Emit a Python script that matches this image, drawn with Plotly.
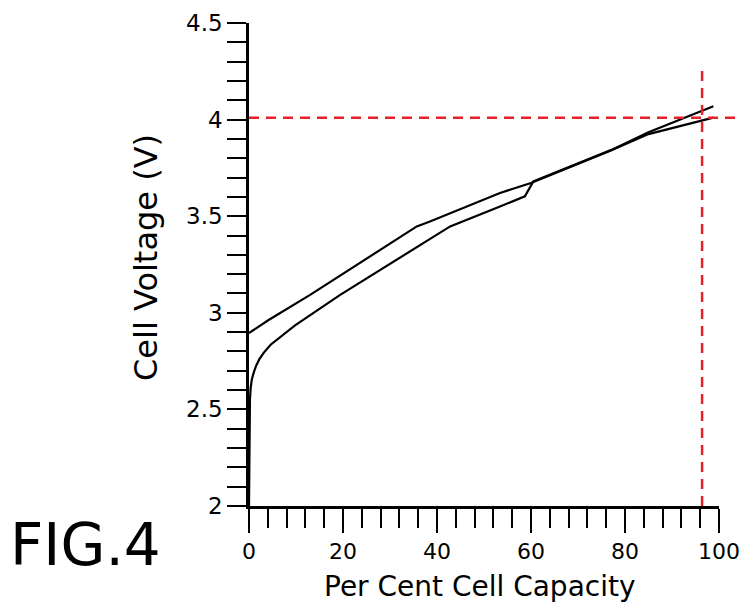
import plotly.graph_objects as go

# Curve starting at 2.9 V
cap_a = [0, 4, 13, 25, 35.7, 38.5, 45, 53.4, 60, 68, 77, 85, 98.8]
volt_a = [2.895, 2.96, 3.093, 3.28, 3.447, 3.473, 3.537, 3.62, 3.672, 3.75, 3.84, 3.925, 4.01]

# Curve starting at 2.0 V
cap_b = [0, 0.05, 0.1, 0.2, 0.35, 0.6, 1.0, 1.5, 2.2, 3.2, 4.6, 6.4, 9.8, 19.4, 31.4, 42.8, 53.4, 58.7, 60.5, 68, 77, 85, 98.8]
volt_b = [2.0, 2.3, 2.45, 2.55, 2.61, 2.655, 2.69, 2.725, 2.76, 2.795, 2.835, 2.87, 2.935, 3.093, 3.275, 3.447, 3.55, 3.603, 3.68, 3.752, 3.842, 3.935, 4.069]

x_ticks = [0, 20, 40, 60, 80, 100]
y_ticks = [2, 2.5, 3, 3.5, 4, 4.5]
y_labels = ["2", "2.5", "3", "3.5", "4", "4.5"]

ref_voltage = 4.01
ref_capacity = 96.4
ref_top = 4.27

font_family = "DejaVu Sans"

fig = go.Figure()
fig.add_trace(go.Scatter(x=cap_a, y=volt_a, mode="lines",
                         line=dict(color="black", width=2.2), showlegend=False))
fig.add_trace(go.Scatter(x=cap_b, y=volt_b, mode="lines",
                         line=dict(color="black", width=2.2), showlegend=False))

fig.add_shape(type="line", xref="paper", yref="y", x0=0, x1=1.07,
              y0=ref_voltage, y1=ref_voltage,
              line=dict(color="#e8202a", width=2.5, dash="10px,7px"))
fig.add_shape(type="line", xref="x", yref="y", x0=ref_capacity, x1=ref_capacity,
              y0=2.0, y1=ref_top,
              line=dict(color="#e8202a", width=2.5, dash="10px,7px"))

# page body has an 8px offset; margins compensate so the plot area lands at
# screen x 249..719, y 23..506
fig.update_layout(
    width=750, height=603,
    margin=dict(l=241, r=39, t=15, b=105, autoexpand=False),
    paper_bgcolor="white", plot_bgcolor="white",
    font=dict(family=font_family, color="black"),
    xaxis=dict(range=[0, 100], tickvals=x_ticks, ticks="outside", ticklen=24,
               tickwidth=2.2, tickcolor="black", showline=True, linewidth=2.5,
               linecolor="black", showgrid=False, zeroline=False, automargin=False,
               tickfont=dict(size=22, family=font_family),
               minor=dict(dtick=4, ticks="outside", ticklen=19, tickwidth=2.2,
                          tickcolor="black", showgrid=False)),
    yaxis=dict(range=[2, 4.5], tickvals=y_ticks, ticktext=y_labels,
               ticks="outside", ticklen=19, tickwidth=2.2, tickcolor="black",
               showline=True, linewidth=2.5, linecolor="black", automargin=False,
               showgrid=False, zeroline=False,
               tickfont=dict(size=23, family=font_family),
               minor=dict(dtick=0.1, ticks="outside", ticklen=19, tickwidth=2.2,
                          tickcolor="black", showgrid=False)),
)

fig.add_annotation(text="Cell Voltage (V)", xref="paper", yref="paper",
                   x=(146 - 249) / 470, y=(506 - 258) / 483, textangle=-90,
                   showarrow=False, xanchor="center", yanchor="middle",
                   font=dict(size=32, family=font_family))
fig.add_annotation(text="Per Cent Cell Capacity", xref="paper", yref="paper",
                   x=(480 - 249) / 470, y=-(586 - 506) / 483,
                   showarrow=False, xanchor="center", yanchor="middle",
                   font=dict(size=28, family=font_family))
fig.add_annotation(text="FIG.4", xref="paper", yref="paper",
                   x=(8 - 249) / 470, y=-(545 - 506) / 483,
                   showarrow=False, xanchor="left", yanchor="middle",
                   font=dict(size=58, family=font_family))

fig.write_html("out.html")
